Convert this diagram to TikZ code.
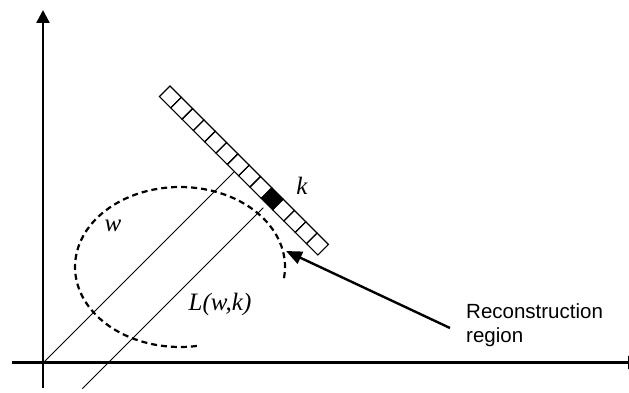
\documentclass[tikz,border=0pt]{standalone}
\usepackage{fontspec}
\setmainfont{Liberation Serif}
\newfontfamily\arialfont{Liberation Sans}
\usetikzlibrary{arrows.meta,calc}
\begin{document}
\begin{tikzpicture}[x=1pt,y=-1pt,
  axis/.style={line width=2.4pt,-{Triangle[length=13pt,width=13pt]}},
  cell/.style={draw,line width=1.1pt},
  proj/.style={line width=0.9pt},
  region/.style={line width=2.2pt,dash pattern=on 6pt off 4pt},
  pointer/.style={line width=2.4pt,-{Triangle[length=16pt,width=13pt]}},
  lab/.style={font=\itshape\fontsize{25}{25}\selectfont,inner sep=0pt},
  note/.style={font=\arialfont\fontsize{20.5}{24}\selectfont,align=left,inner sep=0pt}]
\useasboundingbox (0,0) rectangle (629,393);
\coordinate (O) at (43,362.5);
\coordinate (ytop) at (43,10);
\coordinate (ybot) at (43,388);
\coordinate (xleft) at (12,362.5);
\coordinate (xright) at (641,362.5);
\draw[axis] (ybot) -- (ytop);
\draw[axis] (xleft) -- (xright);
\begin{scope}[shift={(170,86)},rotate=-45]
  \fill (144,0) rectangle (160,15);
  \foreach \i in {0,...,13} \draw[cell] (\i*16,0) rectangle ++(16,15);
  \coordinate (a1) at (106,15);
  \coordinate (b1) at (106,285);
  \coordinate (a2) at (152,20);
  \coordinate (b2) at (152,276);
\end{scope}
\draw[proj] (a1) -- (b1);
\draw[proj] (a2) -- (b2);
\draw[region] (180,267) ++(8:105 and 80) arc[start angle=8,end angle=-280,x radius=105,y radius=80];
\coordinate (tail) at (450,328);
\coordinate (tip) at (286,251);
\draw[pointer] (tail) -- (tip);
\node[lab] (k) at (302,186) {k};
\node[lab] (w) at (113,226) {w};
\node[lab] (L) at (220,304) {L(w,k)};
\node[note,anchor=north west] (rr) at (466,303.5) {Reconstruction\\region};
\end{tikzpicture}
\end{document}
